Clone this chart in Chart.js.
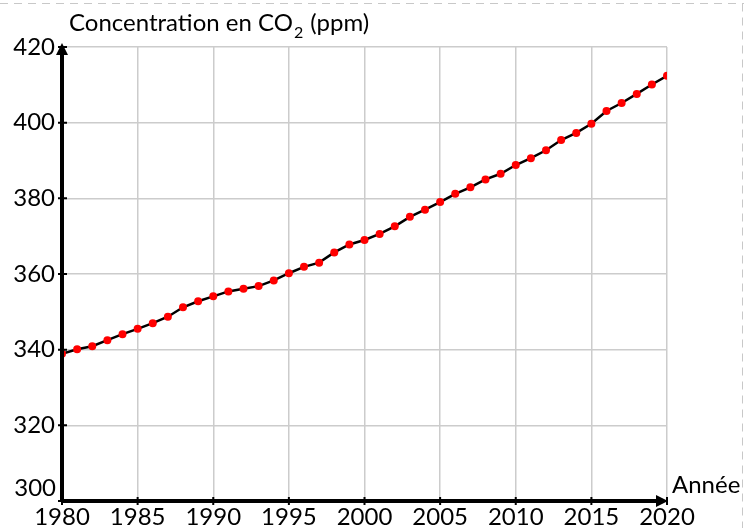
<!DOCTYPE html>
<html>
<head>
<meta charset="utf-8">
<script src="https://cdn.jsdelivr.net/npm/chart.js@4"></script>
<style>
  html, body { margin: 0; padding: 0; background: #fff; }
  canvas { display: block; }
</style>
</head>
<body>
<canvas id="co2" width="744" height="528"></canvas>
<script>
// CO2 concentration, annual mean (ppm)
const years = [1980, 1981, 1982, 1983, 1984, 1985, 1986, 1987, 1988, 1989,
  1990, 1991, 1992, 1993, 1994, 1995, 1996, 1997, 1998, 1999,
  2000, 2001, 2002, 2003, 2004, 2005, 2006, 2007, 2008, 2009,
  2010, 2011, 2012, 2013, 2014, 2015, 2016, 2017, 2018, 2019, 2020];
const ppm = [338.9, 340.1, 340.9, 342.5, 344.1, 345.5, 347.0, 348.7, 351.2, 352.8,
  354.1, 355.4, 356.1, 356.8, 358.3, 360.2, 361.9, 363.0, 365.7, 367.8,
  369.0, 370.6, 372.6, 375.1, 377.0, 379.0, 381.2, 382.9, 385.0, 386.5,
  388.8, 390.6, 392.7, 395.4, 397.3, 399.7, 403.1, 405.2, 407.6, 410.1, 412.4];
const yTicks = [300, 320, 340, 360, 380, 400, 420];
const xTicks = [1980, 1985, 1990, 1995, 2000, 2005, 2010, 2015, 2020];

const FONT = "Lato, 'DejaVu Sans', sans-serif";

// axes with arrows, tick marks, title and a few labels
const axesPlugin = {
  id: "axesPlugin",
  afterDraw(chart) {
    const ctx = chart.ctx;
    const x = chart.scales.x, y = chart.scales.y;
    const x0 = x.getPixelForValue(1980), x1 = x.getPixelForValue(2020);
    const y0 = y.getPixelForValue(300), y1 = y.getPixelForValue(420);
    ctx.save();

    // dashed frame top / right
    ctx.strokeStyle = "#c8c8c8";
    ctx.lineWidth = 1;
    ctx.setLineDash([8, 6]);
    ctx.beginPath();
    ctx.moveTo(0, 3.5); ctx.lineTo(744, 3.5);
    ctx.moveTo(742.5, 3.5); ctx.lineTo(742.5, 528);
    ctx.stroke();
    ctx.setLineDash([]);

    // axes
    ctx.strokeStyle = "#000";
    ctx.fillStyle = "#000";
    ctx.lineWidth = 4;
    ctx.beginPath();
    ctx.moveTo(x0, y0); ctx.lineTo(x1 - 8, y0);
    ctx.moveTo(x0, y0); ctx.lineTo(x0, y1 + 8);
    ctx.stroke();
    // arrow heads
    ctx.beginPath();
    ctx.moveTo(x1 + 1, y0); ctx.lineTo(x1 - 11, y0 - 6); ctx.lineTo(x1 - 11, y0 + 6);
    ctx.closePath(); ctx.fill();
    ctx.beginPath();
    ctx.moveTo(x0, y1 - 4); ctx.lineTo(x0 - 6, y1 + 8); ctx.lineTo(x0 + 6, y1 + 8);
    ctx.closePath(); ctx.fill();

    // tick marks
    ctx.lineWidth = 2;
    ctx.beginPath();
    xTicks.forEach(v => {
      const px = x.getPixelForValue(v);
      ctx.moveTo(px, y0 - 4); ctx.lineTo(px, y0 + 4);
    });
    yTicks.forEach(v => {
      const py = y.getPixelForValue(v);
      ctx.moveTo(x0 - 4, py); ctx.lineTo(x0 + 5, py);
    });
    ctx.stroke();

    // 300 label shifted up, axis names
    ctx.font = "24px " + FONT;
    ctx.textBaseline = "middle";
    ctx.textAlign = "right";
    ctx.fillText("300", x0 - 6, y0 - 13);
    ctx.textAlign = "left";
    ctx.fillText("Année", x1 + 5, y0 - 16);

    let tx = 69;
    const ty = 23;
    const first = "Concentration en CO";
    ctx.fillText(first, tx, ty);
    tx += ctx.measureText(first).width;
    ctx.font = "16px " + FONT;
    ctx.fillText("2", tx + 1, ty + 10);
    tx += ctx.measureText("2").width + 2;
    ctx.font = "24px " + FONT;
    ctx.fillText(" (ppm)", tx, ty);
    ctx.restore();
  }
};

new Chart(document.getElementById("co2"), {
  type: "line",
  data: {
    datasets: [{
      data: years.map((yr, i) => ({ x: yr, y: ppm[i] })),
      borderColor: "#000",
      borderWidth: 2.5,
      backgroundColor: "#ff0000",
      pointBackgroundColor: "#ff0000",
      pointBorderWidth: 0,
      pointRadius: 4,
      tension: 0
    }]
  },
  options: {
    responsive: false,
    animation: false,
    devicePixelRatio: 1,
    layout: { padding: { left: 0, top: 47, right: 77, bottom: 0 } },
    plugins: { legend: { display: false }, tooltip: { enabled: false } },
    scales: {
      x: {
        type: "linear",
        min: 1980, max: 2020,
        afterBuildTicks: s => { s.ticks = xTicks.map(v => ({ value: v })); },
        afterFit: s => { s.height = 27; },
        border: { display: false },
        grid: { color: "#cccccc", lineWidth: 1.5, drawTicks: false },
        ticks: {
          color: "#000", padding: 2, maxRotation: 0, autoSkip: false,
          font: { family: FONT, size: 24 },
          callback: v => String(v)
        }
      },
      y: {
        min: 300, max: 420,
        afterBuildTicks: s => { s.ticks = yTicks.map(v => ({ value: v })); },
        afterFit: s => { s.width = 62; },
        border: { display: false },
        grid: { color: "#cccccc", lineWidth: 1.5, drawTicks: false },
        ticks: {
          color: "#000", padding: 7, autoSkip: false,
          font: { family: FONT, size: 24 },
          callback: v => (v === 300 ? "" : String(v))
        }
      }
    }
  },
  plugins: [axesPlugin]
});
</script>
</body>
</html>
